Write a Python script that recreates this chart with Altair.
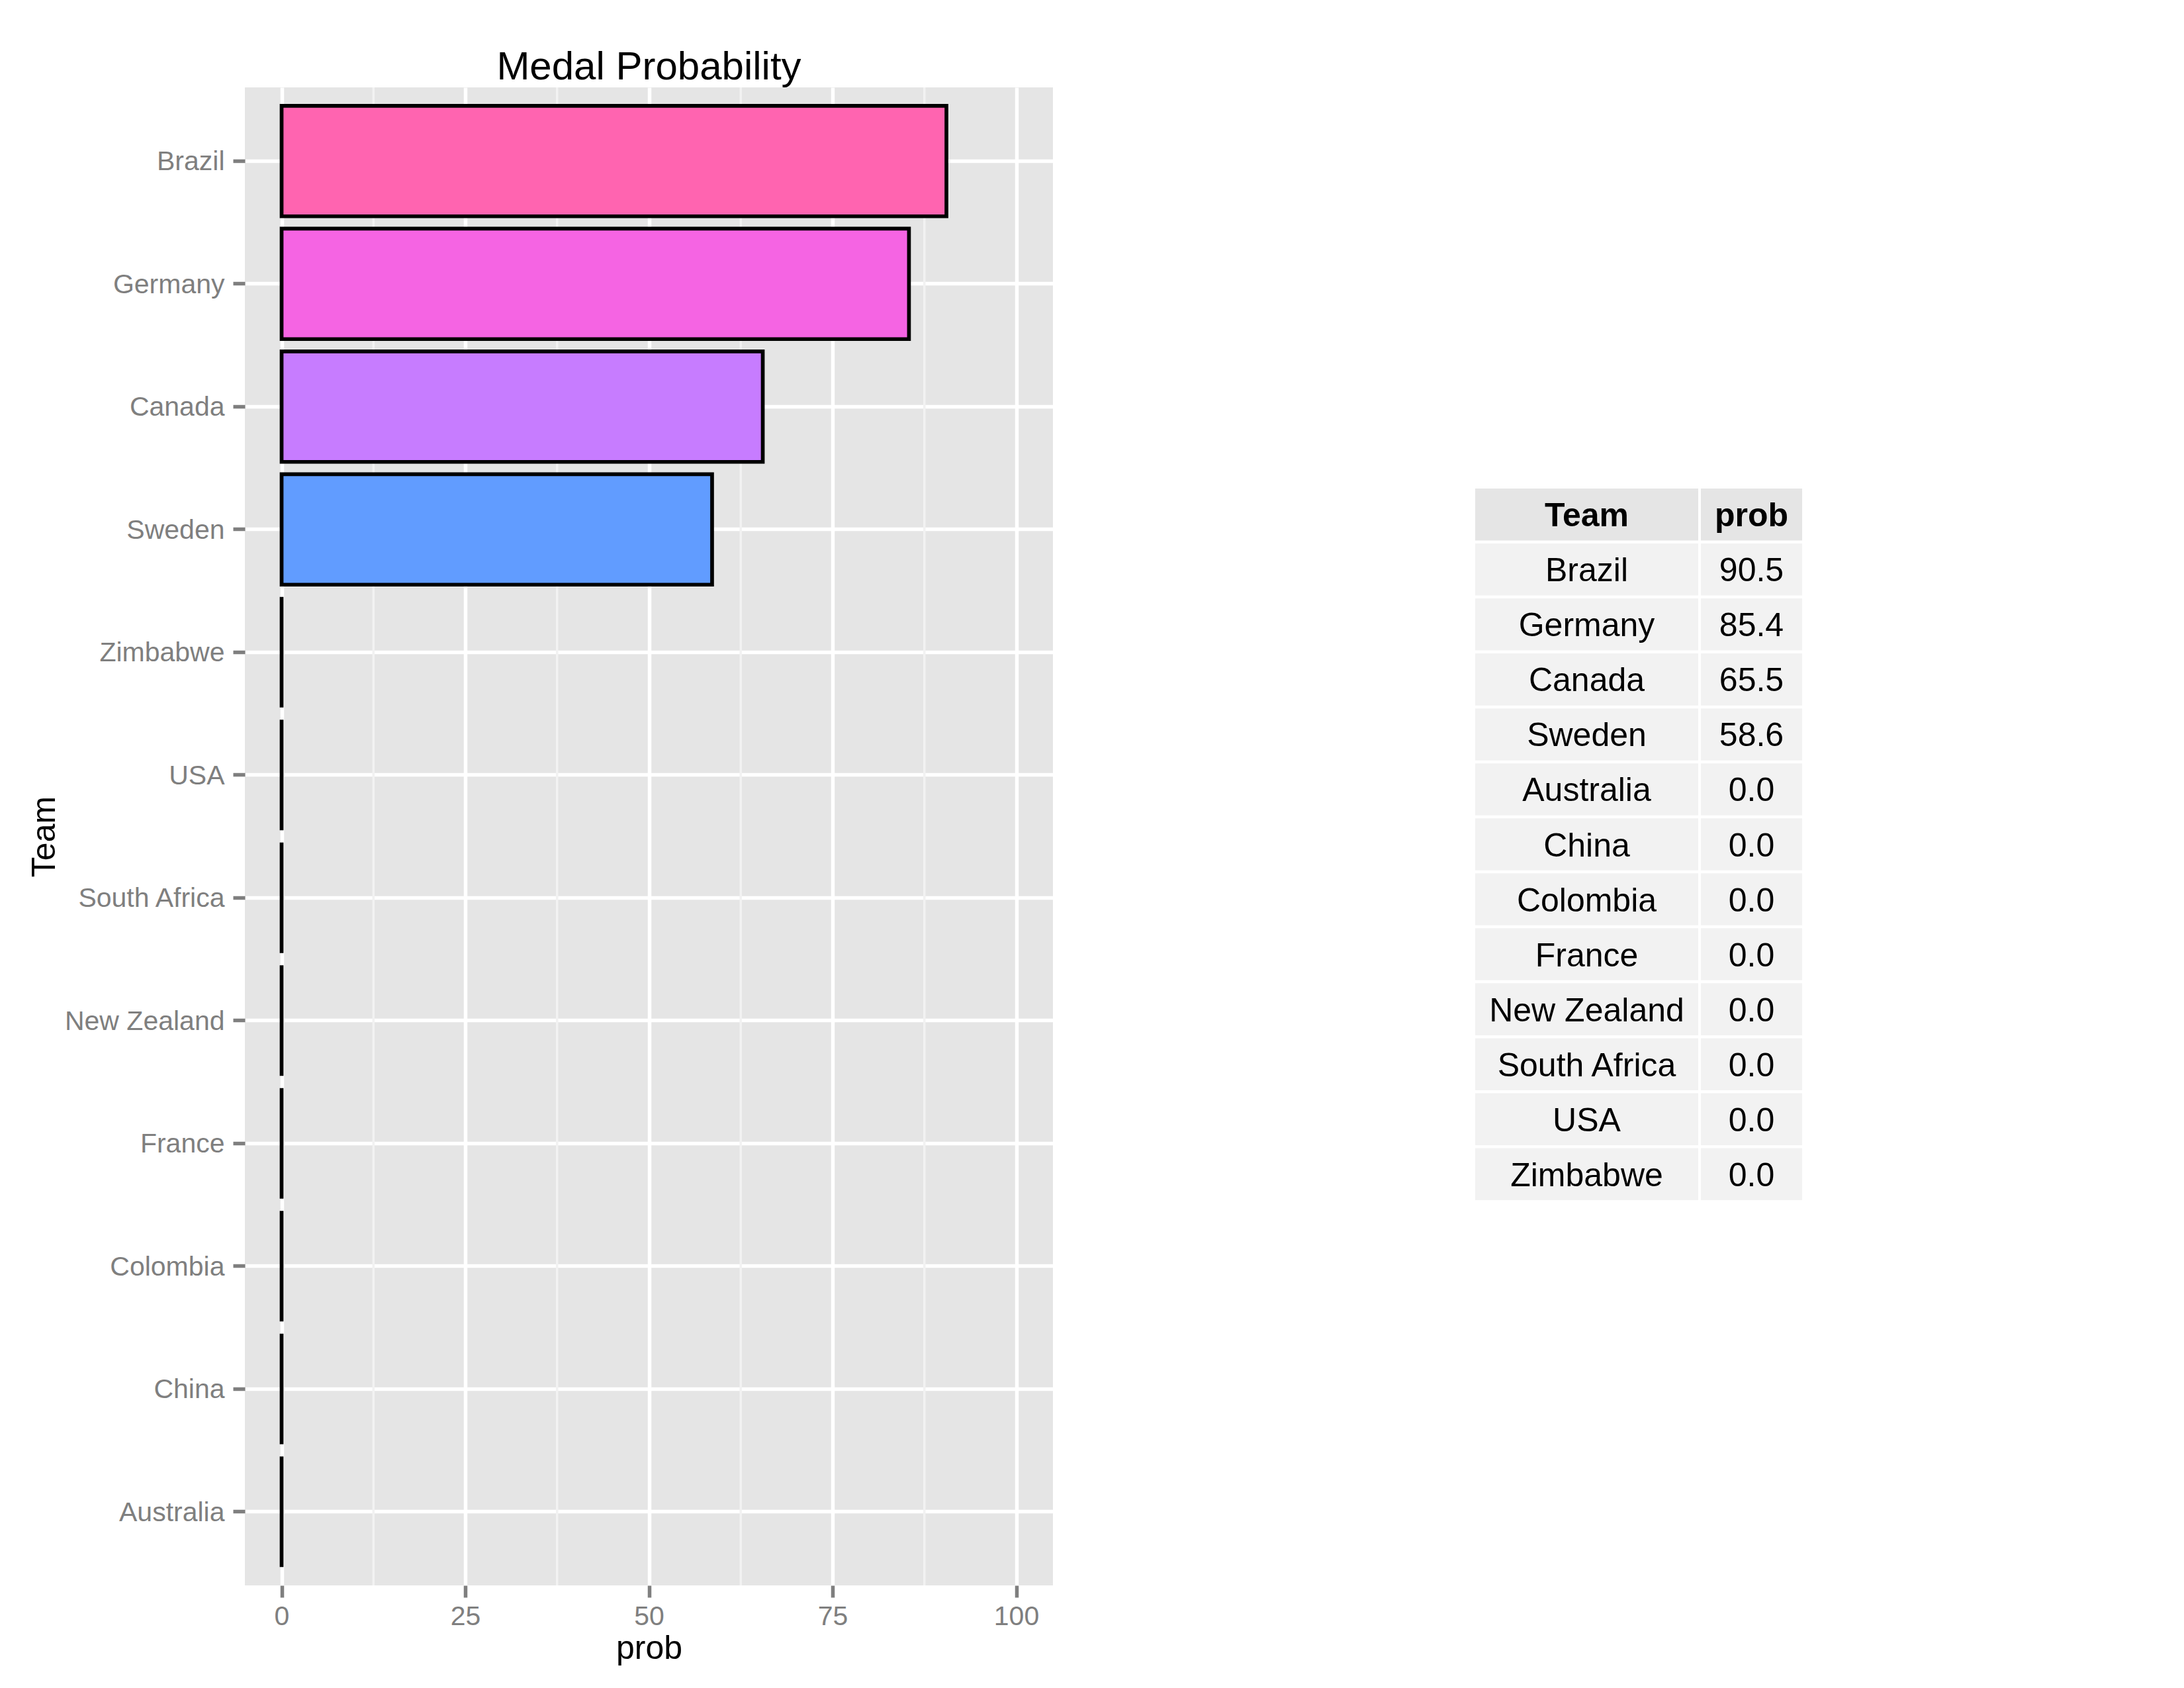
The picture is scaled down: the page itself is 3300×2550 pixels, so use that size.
import altair as alt
import pandas as pd

FONT = "Liberation Sans"

# ---- data ----
plot_teams = ["Brazil", "Germany", "Canada", "Sweden", "Zimbabwe", "USA",
              "South Africa", "New Zealand", "France", "Colombia", "China", "Australia"]
plot_probs = [90.5, 85.4, 65.5, 58.6, 0.0, 0.0, 0.0, 0.0, 0.0, 0.0, 0.0, 0.0]
team_colors = ["#FF64B0", "#F564E3", "#C77CFF", "#619CFF", "#00B4F0", "#00BFC4",
               "#00C08B", "#00BA38", "#7CAE00", "#B79F00", "#DE8C00", "#F8766D"]

table_teams = ["Brazil", "Germany", "Canada", "Sweden", "Australia", "China",
               "Colombia", "France", "New Zealand", "South Africa", "USA", "Zimbabwe"]
table_probs = [90.5, 85.4, 65.5, 58.6, 0.0, 0.0, 0.0, 0.0, 0.0, 0.0, 0.0, 0.0]

major_breaks = [0, 25, 50, 75, 100]
minor_breaks = [12.5, 37.5, 62.5, 87.5]
x_domain = [-5, 105]

# ---- layout ----
PANEL_W = 1221
PANEL_H = 2263
TABLE_TOP = 606
TABLE_BOTTOM = 1681

bars_df = pd.DataFrame({"Team": plot_teams, "prob": plot_probs})
minor_df = pd.DataFrame({"prob": minor_breaks})

xscale = alt.Scale(domain=x_domain, nice=False, zero=False)
yscale = alt.Scale(domain=plot_teams, paddingInner=0.1, paddingOuter=0.15)

x_axis = alt.Axis(values=major_breaks, format="d", title="prob",
                  grid=True, gridColor="white", gridWidth=5.5,
                  domain=False, tickSize=18, tickWidth=5.5, tickColor="#7F7F7F",
                  labelFontSize=41, labelColor="#7F7F7F", labelPadding=9,
                  labelFlush=False, labelFont=FONT,
                  titleFont=FONT, titleFontSize=50, titleFontWeight="normal",
                  titleColor="black", titleY=110, titleBaseline="alphabetic")

minor = alt.Chart(minor_df).mark_rule(color="#F2F2F2", strokeWidth=3.5).encode(
    x=alt.X("prob:Q", scale=xscale, axis=x_axis)
)

bars = alt.Chart(bars_df).mark_bar(stroke="black", strokeWidth=5.7).encode(
    x=alt.X("prob:Q", scale=xscale, axis=x_axis),
    y=alt.Y("Team:N", sort=plot_teams, scale=yscale,
            axis=alt.Axis(title="Team", grid=True, gridColor="white", gridWidth=5.5,
                          bandPosition=0.5,
                          domain=False, tickSize=18, tickWidth=5.5, tickColor="#7F7F7F",
                          labelFontSize=41, labelColor="#7F7F7F", labelPadding=13,
                          labelBaseline="alphabetic", labelOffset=14, labelFont=FONT,
                          labelLimit=0,
                          titleFont=FONT, titleFontSize=50, titleFontWeight="normal",
                          titleColor="black", titleAngle=270, titleX=-288,
                          titleY=PANEL_H / 2, titleAlign="center",
                          titleBaseline="alphabetic")),
    color=alt.Color("Team:N", scale=alt.Scale(domain=plot_teams, range=team_colors),
                    legend=None),
)

bar_chart = alt.layer(minor, bars).properties(
    width=PANEL_W, height=PANEL_H,
    title=alt.TitleParams("Medal Probability", font=FONT, fontSize=60,
                          fontWeight="normal", color="black", anchor="middle",
                          baseline="alphabetic", offset=-50),
    view=alt.ViewBackground(fill="#E5E5E5", strokeWidth=0),
)

# ---- table ----
keys = ["Team"] + table_teams
team_text = ["Team"] + table_teams
prob_text = ["prob"] + [("%4.1f" % v).replace(" ", "\u00a0") for v in table_probs]
tbl_df = pd.DataFrame({"key": keys, "team_text": team_text, "prob_text": prob_text})

tscale = alt.Scale(domain=keys, paddingInner=0.0542, paddingOuter=0,
                   range=[TABLE_TOP, TABLE_BOTTOM])


def table_column(field, width):
    base = alt.Chart(tbl_df).encode(
        y=alt.Y("key:N", sort=keys, scale=tscale, axis=None)
    )
    cells = base.mark_rect().encode(
        color=alt.condition("datum.key == 'Team'", alt.value("#E5E5E5"),
                            alt.value("#F2F2F2"))
    )
    head = base.transform_filter("datum.key == 'Team'").mark_text(
        font=FONT, fontSize=50, fontWeight="bold", color="black",
        baseline="alphabetic", dy=18, align="center"
    ).encode(text=f"{field}:N")
    body = base.transform_filter("datum.key != 'Team'").mark_text(
        font=FONT, fontSize=50, fontWeight="normal", color="black",
        baseline="alphabetic", dy=18, align="center"
    ).encode(text=f"{field}:N")
    return alt.layer(cells, head, body).properties(width=width, height=PANEL_H)


team_col = table_column("team_text", 337)
prob_col = table_column("prob_text", 153)

table = alt.hconcat(team_col, prob_col, spacing=4)

chart = alt.hconcat(bar_chart, table, spacing=638).properties(
    padding={"left": 34, "top": 64, "right": 10, "bottom": 10},
    background="white",
).configure(font=FONT).configure_view(strokeWidth=0)

chart.save("out.html", embed_options={"renderer": "svg", "actions": False})
